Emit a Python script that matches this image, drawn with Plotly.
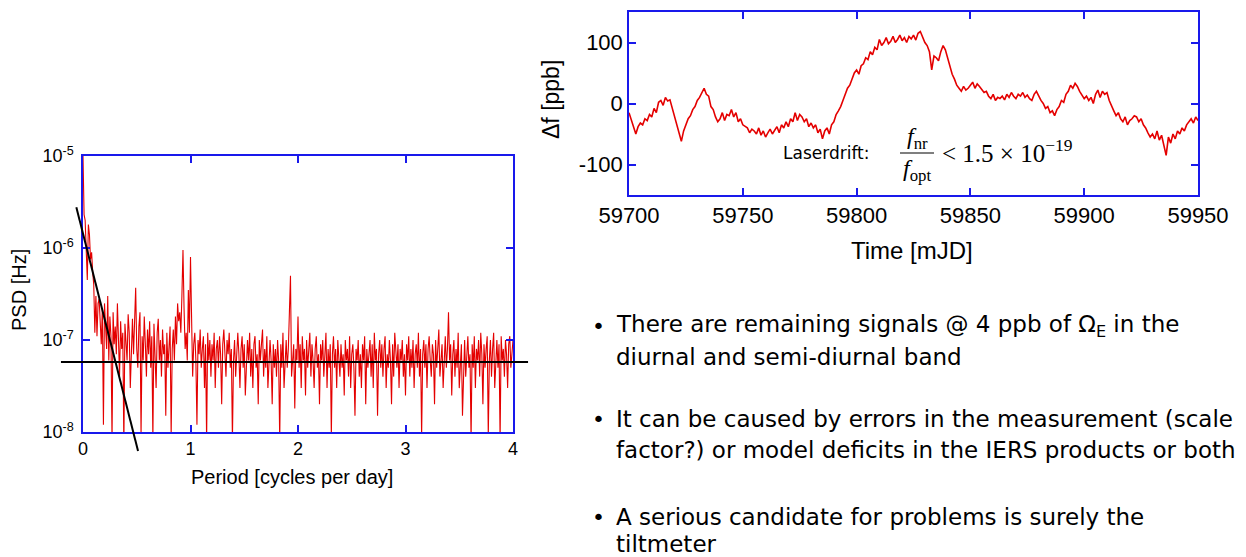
import plotly.graph_objects as go

# ---------------- data ----------------
# PSD spectrum, x = cycles per day (step 0.01), values in units of 1e-8 Hz
psd_step = 0.01
psd_e8 = [
    1000, 230, 200, 110, 45, 180, 140, 75, 90, 55, 40, 12, 30, 11, 25, 28, 15, 9, 22, 1.2,
    25, 14, 8, 30, 6, 18, 11, 0.8, 20, 9, 14, 7, 25, 10, 4, 16, 8, 12, 0.7, 15,
    10, 6, 19, 12, 3, 9, 17, 7, 13, 37, 8, 5, 14, 20, 0.9, 11, 6, 18, 9, 4,
    13, 7, 16, 5, 11, 0.8, 15, 8, 3, 12, 17, 6, 10, 4, 13, 7, 9, 1.5, 12, 5,
    10, 14, 0.9, 8, 13, 6, 18, 9, 25, 16, 20, 12, 30, 95, 22, 8, 12, 6, 35, 12,
    80, 15, 4, 9, 12, 6, 1.2, 10, 7, 13, 5, 8, 11, 3, 9, 0.8, 12, 6, 10, 4,
    9, 6, 12, 3, 8, 10, 5, 11, 7, 2, 9, 13, 6, 4, 10, 7, 12, 5, 8, 0.8,
    6, 10, 4, 9, 12, 7, 3, 8, 11, 5, 9, 2.5, 7, 10, 6, 12, 4, 8, 3, 9,
    11, 5, 7, 2, 10, 6, 9, 13, 4, 8, 5, 11, 3, 7, 10, 6, 2, 9, 5, 8,
    4, 10, 6, 0.8, 9, 5, 12, 3, 7, 10, 5, 8, 20, 50, 4, 7, 9, 1.8, 8, 6,
    18, 5, 9, 3, 11, 6, 8, 2.5, 10, 5, 7, 12, 4, 9, 6, 3, 8, 11, 5, 7,
    2, 9, 6, 10, 4, 7, 12, 3, 8, 5, 9, 0.9, 7, 11, 5, 8, 3, 10, 6, 4,
    9, 5, 7, 2.5, 10, 6, 8, 4, 11, 3, 7, 9, 5, 1.5, 8, 6, 10, 4, 7, 3,
    9, 6, 11, 2, 8, 5, 7, 10, 4, 9, 3, 12, 6, 8, 1.5, 7, 10, 5, 9, 4,
    8, 11, 3, 7, 5, 10, 6, 2, 9, 4, 12, 7, 5, 9, 3, 8, 6, 10, 4, 7,
    2.5, 9, 6, 11, 4, 8, 5, 10, 3, 7, 9, 5, 12, 4, 8, 0.9, 7, 10, 5, 9,
    3, 8, 11, 6, 4, 9, 7, 2, 10, 5, 8, 13, 4, 7, 9, 3, 6, 11, 5, 8,
    20, 6, 9, 2.5, 7, 10, 4, 8, 5, 12, 3, 7, 9, 1.5, 6, 10, 4, 8, 11, 5,
    7, 0.8, 9, 5, 11, 3, 8, 6, 10, 4, 12, 7, 2, 9, 5, 8, 11, 0.9, 6, 10,
    4, 8, 12, 3, 7, 10, 5, 9, 0.8, 11, 6, 8, 4, 10, 7, 3, 9, 11, 5, 8,
    10,
]
psd_x = [round(i * psd_step, 4) for i in range(len(psd_e8))]
psd_hz = [v * 1e-8 for v in psd_e8]

# fitted lines on PSD plot
slope_line_x = [-0.062, 0.512]
slope_line_y = [2.77e-6, 6.2e-9]
floor_line_x = [-0.205, 4.14]
floor_line_y = [5.77e-8, 5.77e-8]

# laser drift time series (1 day steps), ppb
mjd_start = 59700
drift_ppb = [
    -15, -28, -40, -50, -38, -32, -35, -25, -28, -18,
    -22, -8, -15, 2, 5, -3, 10, 4, 6, -8,
    -20, -35, -48, -62, -45, -35, -25, -20, -10, -5,
    5, 10, 18, 25, 15, 12, -5, -10, -22, -30,
    -25, -15, -28, -18, -20, -10, -22, -15, -30, -25,
    -35, -38, -40, -48, -42, -45, -50, -40, -52, -45,
    -55, -48, -42, -50, -45, -38, -48, -35, -40, -30,
    -38, -25, -30, -15, -28, -18, -22, -30, -25, -38,
    -32, -40, -35, -48, -42, -58, -45, -40, -50, -35,
    -30, -18, -12, -5, 5, 15, 25, 30, 42, 50,
    55, 48, 62, 65, 75, 72, 85, 80, 92, 88,
    105, 95, 100, 108, 98, 102, 110, 100, 105, 112,
    103, 108, 100, 110, 106, 112, 104, 115, 118, 110,
    100, 95, 85, 55, 78, 75, 70, 85, 95, 88,
    75, 60, 48, 40, 30, 25, 20, 28, 22, 25,
    30, 35, 25, 32, 28, 22, 18, 20, 12, 8,
    15, 5, 10, 8, 12, 6, 15, 10, 18, 12,
    8, 15, 12, 18, 10, 14, 8, 5, 15, 20,
    12, 5, 0, -8, -5, -15, -12, -20, -10, -5,
    5, 2, 15, 20, 30, 25, 33, 28, 20, 15,
    8, 12, 5, 10, 0, 15, 22, 10, 20, 15,
    18, 5, -5, -12, -20, -15, -25, -30, -22, -35,
    -28, -25, -20, -22, -30, -25, -35, -40, -48, -55,
    -50, -58, -45, -60, -52, -70, -85, -55, -65, -50,
    -58, -45, -50, -40, -45, -35, -30, -25, -32, -22,
    -28,
]
mjd = [mjd_start + i for i in range(len(drift_ppb))]

psd_xticks = [0, 1, 2, 3, 4]
psd_yticks = [1e-8, 1e-7, 1e-6, 1e-5]
psd_yticktext = ["10<sup>-8</sup>", "10<sup>-7</sup>", "10<sup>-6</sup>", "10<sup>-5</sup>"]
drift_xticks = [59700, 59750, 59800, 59850, 59900, 59950]
drift_xticktext = ["59700", "59750", "59800", "59850", "59900", "59950"]
drift_yticks = [-100, 0, 100]
drift_yticktext = ["-100", "0", "100"]

bullets = [
    ["There are remaining signals @ 4 ppb of Ω<sub>E</sub> in the", "diurnal and semi-diurnal band"],
    ["It can be caused by errors in the measurement (scale", "factor?) or model deficits in the IERS products or both"],
    ["A serious candidate for problems is surely the", "tiltmeter"],
]

# ---------------- layout helpers ----------------
# page body has an 8 px margin, so the figure is 8 px smaller and offset
OFF = 8
W, H = 1246 - OFF, 557 - OFF
def px(x):
    return (x - OFF) / W
def py(y):
    return 1 - (y - OFF) / H

BLUE = "rgb(25,25,235)"
RED = "rgb(228,0,0)"
SANS = "Liberation Sans, Arial, sans-serif"
SERIF = "Liberation Serif, Times New Roman, serif"
HAND = "DejaVu Sans, sans-serif"

# PSD plot box in screen pixels
L_LEFT, L_RIGHT, L_TOP, L_BOT = 83, 513, 156, 432
# drift plot box in screen pixels
R_LEFT, R_RIGHT, R_TOP, R_BOT = 629, 1198, 12, 195

# overlay axes for unclipped fit lines (same scale as PSD axes)
xs = (L_RIGHT - L_LEFT) / 4.0
ys = (L_BOT - L_TOP) / 3.0
O_LEFT, O_RIGHT, O_TOP, O_BOT = 50, 540, 195, 468
o_xrange = [(O_LEFT - L_LEFT) / xs, (O_RIGHT - L_LEFT) / xs]
o_yrange = [-8 - (O_BOT - L_BOT) / ys, -8 + (L_BOT - O_TOP) / ys]

fig = go.Figure()
fig.add_trace(go.Scatter(x=psd_x, y=psd_hz, mode="lines",
                         line=dict(color=RED, width=1.1), xaxis="x", yaxis="y",
                         showlegend=False))
fig.add_trace(go.Scatter(x=slope_line_x, y=slope_line_y, mode="lines",
                         line=dict(color="black", width=2), xaxis="x3", yaxis="y3",
                         showlegend=False))
fig.add_trace(go.Scatter(x=floor_line_x, y=floor_line_y, mode="lines",
                         line=dict(color="black", width=2), xaxis="x3", yaxis="y3",
                         showlegend=False))
fig.add_trace(go.Scatter(x=mjd, y=drift_ppb, mode="lines",
                         line=dict(color=RED, width=1.6), xaxis="x2", yaxis="y2",
                         showlegend=False))

def axis_common():
    return dict(showgrid=False, zeroline=False, ticks="inside", ticklen=7,
                tickwidth=1.5, tickcolor=BLUE, showline=True, linecolor=BLUE,
                linewidth=1.5, mirror="ticks", automargin=False)

fig.update_layout(
    width=W, height=H, margin=dict(l=0, r=0, t=0, b=0, autoexpand=False),
    paper_bgcolor="white", plot_bgcolor="rgba(0,0,0,0)",
    xaxis=dict(**axis_common(), domain=[px(L_LEFT), px(L_RIGHT)], range=[0, 4],
               tickmode="array", tickvals=psd_xticks, ticktext=[str(v) for v in psd_xticks],
               tickfont=dict(family=SANS, size=18, color="black"), anchor="y"),
    yaxis=dict(**axis_common(), domain=[py(L_BOT), py(L_TOP)], type="log", range=[-8, -5],
               tickmode="array", tickvals=psd_yticks, ticktext=psd_yticktext,
               tickfont=dict(family=SANS, size=18, color="black"), anchor="x",
               ticklabelstandoff=4),
    xaxis2=dict(**axis_common(), domain=[px(R_LEFT), px(R_RIGHT)], range=[59700, 59950],
                tickmode="array", tickvals=drift_xticks, ticktext=drift_xticktext,
                tickfont=dict(family=SANS, size=22, color="black"), anchor="y2"),
    yaxis2=dict(**axis_common(), domain=[py(R_BOT), py(R_TOP)], range=[-150, 150],
                tickmode="array", tickvals=drift_yticks, ticktext=drift_yticktext,
                tickfont=dict(family=SANS, size=22, color="black"), anchor="x2"),
    xaxis3=dict(domain=[px(O_LEFT), px(O_RIGHT)], range=o_xrange, visible=False,
                anchor="y3", automargin=False),
    yaxis3=dict(domain=[py(O_BOT), py(O_TOP)], range=o_yrange, type="log", visible=False,
                anchor="x3", automargin=False),
)

ann = []
# axis titles
ann.append(dict(text="Period [cycles per day]", x=px(292), y=py(477),
                font=dict(family=SANS, size=20, color="black")))
ann.append(dict(text="PSD [Hz]", x=px(19), y=py(290), textangle=-90,
                font=dict(family=SANS, size=20, color="black")))
ann.append(dict(text="Time [mJD]", x=px(912), y=py(250),
                font=dict(family=SANS, size=24, color="black")))
ann.append(dict(text="Δf [ppb]", x=px(551), y=py(100), textangle=-90,
                font=dict(family=SANS, size=23, color="black")))
# formula
ann.append(dict(text="Laserdrift:", x=px(826), y=py(153),
                font=dict(family=HAND, size=17, color="black")))
ann.append(dict(text="<i>f</i><sub>nr</sub>", x=px(917), y=py(138),
                font=dict(family=SERIF, size=24, color="black")))
ann.append(dict(text="<i>f</i><sub>opt</sub>", x=px(917), y=py(170),
                font=dict(family=SERIF, size=24, color="black")))
ann.append(dict(text="&lt; 1.5 × 10<sup>−19</sup>", x=px(940), y=py(151), xanchor="left",
                font=dict(family=SERIF, size=25, color="black")))
# bullets
line_y = [[326, 357], [419, 450], [517, 544]]
for lines, ys_ in zip(bullets, line_y):
    ann.append(dict(text="•", x=px(598), y=py(ys_[0]),
                    font=dict(family=HAND, size=22, color="black")))
    for t, yy in zip(lines, ys_):
        ann.append(dict(text=t, x=px(614), y=py(yy), xanchor="left",
                        font=dict(family=HAND, size=23, color="black")))

for a in ann:
    a.setdefault("xanchor", "center")
    a.update(xref="paper", yref="paper", yanchor="middle", showarrow=False)
fig.update_layout(annotations=ann)

fig.add_shape(type="line", xref="paper", yref="paper",
              x0=px(900), x1=px(934), y0=py(153), y1=py(153),
              line=dict(color="black", width=1.2))

fig.write_html("out.html")
